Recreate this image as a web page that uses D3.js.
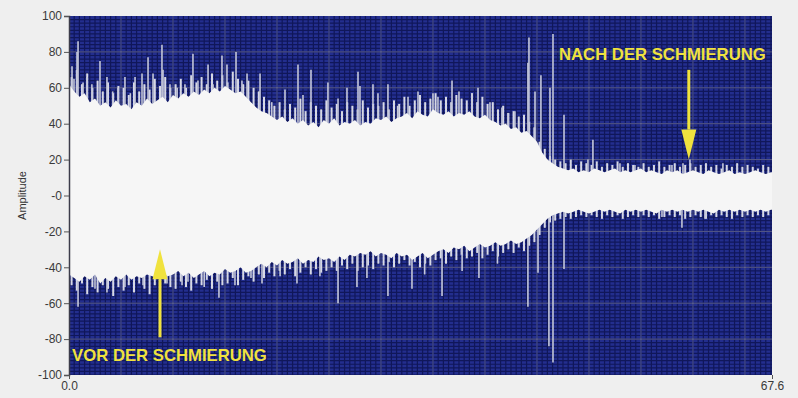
<!DOCTYPE html>
<html>
<head>
<meta charset="utf-8">
<script src="https://cdn.jsdelivr.net/npm/d3@7/dist/d3.min.js"></script>
<style>
  html, body { margin: 0; padding: 0; background: #efefef; }
  svg { display: block; }
  .tick text { font-family: "Liberation Sans", Arial, sans-serif; font-size: 12px; fill: #3a3a3a; }
</style>
</head>
<body>
<svg id="chart" width="798" height="398"></svg>
<script>
// Time axis (s) and amplitude range
const timeMax = 67.6;
const sampleStep = 0.5;
const yTicks = [100, 80, 60, 40, 20, 0, -20, -40, -60, -80, -100];
const xTicks = [0, 67.6];

// Dense core of the vibration signal, one value per 0.5 s (from t = 0)
const upperEnvelope = [
  62, 58, 55, 57, 52,
  54, 50, 52, 49, 53, 50,
  51, 48, 52, 50, 54, 51,
  53, 55, 52, 56, 54, 57,
  55, 58, 56, 59, 57, 60,
  58, 61, 59, 57, 58, 55,
  52, 49, 47,
  46, 44, 42, 44, 41,
  43, 40, 42, 39, 41, 38, 42, 40, 43, 39, 41, 40, 42, 39, 41, 40, 43, 42, 44, 41, 43,
  44, 46, 43, 47, 45, 44, 48, 46, 45, 47, 44, 46, 45, 47, 44, 43, 45,
  42, 41, 39, 40, 37, 38, 35, 36, 33, 30,
  24, 20, 18, 16, 15,
  14, 15, 13, 14, 13, 15, 14, 13, 14, 15, 13, 14, 13, 14, 15, 13, 14, 13, 12, 14,
  13, 14, 12, 13, 14, 13, 12, 14, 13, 12, 13, 14, 12, 13, 12, 13, 14, 13, 12, 13
];
const lowerEnvelope = [
  -44, -46, -48, -45, -47, -44, -49, -46, -48, -45, -47, -44, -47, -45, -46, -44, -45, -46, -43, -45,
  -44, -42, -45, -43, -46, -44, -42, -45, -43, -44, -41, -43, -42, -40, -43,
  -42, -40, -38, -40, -37, -39, -36, -38, -37, -35, -38, -36, -37, -34, -36, -35, -37, -34, -36, -33,
  -34, -32, -33, -31, -34, -32, -33, -35, -32, -34, -33, -36, -34, -32, -35, -33,
  -31, -30, -32, -29, -30, -28, -31, -29, -27, -29, -28, -26, -28, -27, -25, -27, -26, -24,
  -22, -19, -16, -13,
  -11, -10, -9, -10, -9, -8, -9, -10, -9, -8, -9, -8, -9, -10, -8, -9, -8, -9, -8, -9, -10,
  -8, -9, -8, -9, -8, -9, -8, -9, -8, -9, -10, -8, -9, -8, -9, -8, -9, -8, -9, -8, -9, -8
];

// Outer fringe of the signal, one value per 0.5 s (from t = 0.25)
const upperFringe = [
  66, 70, 62, 68, 60, 64, 58, 63, 57, 61,
  60, 56, 63, 58, 62, 59, 65, 61, 66, 60,
  62, 65, 60, 67, 63, 66, 62, 68, 64, 67,
  63, 69, 65, 62, 64, 60, 58, 55, 53, 50,
  52, 48, 51, 49, 54, 47, 52, 50, 48, 53,
  49, 51, 47, 52, 50, 48, 53, 49, 51, 50,
  52, 48, 53, 51, 55, 50, 53, 56, 52, 54,
  57, 53, 55, 52, 56, 54, 53, 57, 52, 55,
  51, 52, 48, 50, 46, 47, 44, 45, 41, 38,
  30, 26, 22, 20, 19, 18, 20, 17, 19, 18,
  17, 19, 16, 18, 17, 19, 16, 18, 17, 16,
  18, 16, 17, 19, 16, 17, 18, 16, 17, 18,
  16, 17, 18, 16, 17, 15, 17, 16, 18, 16,
  17, 16, 15, 17, 16
];
const lowerFringe = [
  -50, -53, -49, -55, -51, -54, -50, -52, -56, -51,
  -53, -50, -54, -49, -52, -55, -50, -53, -49, -51,
  -52, -48, -51, -53, -49, -50, -47, -52, -48, -50,
  -49, -46, -50, -47, -45, -48, -44, -46, -43, -45,
  -42, -44, -41, -45, -43, -40, -44, -41, -43, -42,
  -40, -42, -39, -41, -38, -42, -40, -39, -41, -38,
  -39, -37, -40, -38, -36, -39, -37, -40, -38, -39,
  -36, -35, -38, -34, -36, -33, -35, -34, -32, -35,
  -33, -31, -34, -32, -30, -32, -29, -31, -28, -26,
  -22, -18, -15, -14, -13, -12, -13, -12, -11, -12,
  -11, -12, -13, -11, -12, -11, -13, -12, -11, -12,
  -11, -12, -11, -13, -12, -11, -12, -11, -13, -12,
  -11, -12, -13, -11, -12, -11, -12, -13, -11, -12,
  -11, -12, -11, -12, -11
];

// Individual peaks above the signal: time (s) and amplitude
const upperPeakTime = [0.29, 0.48, 0.77, 0.87, 1.35, 1.73, 2.2, 2.98, 3.65, 4.2, 4.71, 5.38, 5.9, 6.35, 7.02, 7.6, 8.08,
  8.94, 9.04, 9.71, 10.4, 11.15, 11.92, 12.4, 13.37, 13.85, 14.71, 15.19, 16.06, 16.63, 17.12, 18.37, 19.5,
  20.77, 22.02, 22.5, 23.27, 24.9, 25.87, 26.73, 27.79, 27.98, 29.23, 29.71, 30.67, 31.6, 32.6, 33.56, 35.0,
  35.48, 36.83, 37.5, 38.75, 39.33, 40.48, 41.63, 42.21, 42.88, 44.13, 44.23, 44.81, 45.38, 46.25, 46.54,
  47.6, 49.9, 50.38, 52.98, 54.42, 57.98, 59.04, 59.71, 62.88, 64.23];
const upperPeakValue = [72, 65, 80, 86, 63, 66, 62, 75, 66, 58, 60, 66, 57, 66, 68, 77, 68,
  84, 70, 62, 60, 62, 79, 64, 73, 62, 78, 73, 80, 64, 68, 68, 52,
  59, 73, 56, 70, 63, 54, 60, 69, 61, 62, 57, 62, 50, 55, 58, 57,
  55, 64, 58, 57, 60, 52, 49, 46, 47, 74, 88, 58, 67, 60, 90,
  45, 20, 31, 18, 17, 17, 18, 20, 18, 17];

// Individual peaks below the signal
const lowerPeakTime = [0.87, 2.5, 3.65, 5.38, 7.12, 8.75, 9.42, 10.87, 11.44, 13.0, 14.42, 15.96, 17.5, 18.56,
  20.3, 21.92, 24.13, 25.87, 27.69, 28.65, 30.67, 32.98, 34.2, 35.87, 37.8, 39.42, 41.2, 44.13, 45.1,
  46.15, 46.54, 47.6, 57.02, 58.94, 61.15];
const lowerPeakValue = [-62, -52, -54, -51, -50, -55, -49, -50, -48, -51, -57, -50, -46, -49,
  -45, -49, -45, -60, -51, -46, -56, -52, -44, -56, -42, -46, -38, -62, -43,
  -84, -93, -41, -12, -18, -13];

// Annotation labels
const labelBefore = "VOR DER SCHMIERUNG";
const labelAfter = "NACH DER SCHMIERUNG";
const axisTitle = "Amplitude";

const svg = d3.select("#chart");
const W = 798, H = 398;
const margin = { top: 16, right: 26, bottom: 23, left: 69 };
const x0 = margin.left, x1 = W - margin.right;
const y0 = margin.top, y1 = H - margin.bottom;

const x = d3.scaleLinear().domain([0, timeMax]).range([x0, x1]);
const y = d3.scaleLinear().domain([-100, 100]).range([y1, y0]);

svg.append("rect").attr("width", W).attr("height", H).attr("fill", "#efefef");

// Plot background
svg.append("defs").append("clipPath").attr("id", "plotClip")
  .append("rect").attr("x", x0).attr("y", y0).attr("width", x1 - x0).attr("height", y1 - y0);

const plot = svg.append("g").attr("clip-path", "url(#plotClip)");
plot.append("rect").attr("x", x0).attr("y", y0).attr("width", x1 - x0).attr("height", y1 - y0)
  .attr("fill", "#232e8e");

// Fine grid
const minorX = d3.range(0, timeMax, 0.5);
const minorY = d3.range(-100, 100, 2);
plot.selectAll("line.minx").data(minorX).join("line")
  .attr("x1", d => x(d)).attr("x2", d => x(d)).attr("y1", y0).attr("y2", y1)
  .attr("stroke", "#10175a").attr("stroke-width", 1.2);
plot.selectAll("line.miny").data(minorY).join("line")
  .attr("y1", d => y(d)).attr("y2", d => y(d)).attr("x1", x0).attr("x2", x1)
  .attr("stroke", "#10175a").attr("stroke-width", 1.2);

// Major grid
const majorX = d3.range(5, timeMax, 5);
const majorY = d3.range(-80, 100, 20);
plot.selectAll("line.majx").data(majorX).join("line")
  .attr("x1", d => x(d)).attr("x2", d => x(d)).attr("y1", y0).attr("y2", y1)
  .attr("stroke", "#7d82b4").attr("stroke-width", 1).attr("opacity", 0.6);
plot.selectAll("line.majy").data(majorY).join("line")
  .attr("y1", d => y(d)).attr("y2", d => y(d)).attr("x1", x0).attr("x2", x1)
  .attr("stroke", "#8a8aa8").attr("stroke-width", 1).attr("opacity", 0.6);

// Fringe strokes
const fringe = upperFringe.map((u, i) => ({ t: i * sampleStep + sampleStep / 2, hi: u, lo: lowerFringe[i] }));
plot.selectAll("line.fr").data(fringe).join("line")
  .attr("x1", d => x(d.t)).attr("x2", d => x(d.t))
  .attr("y1", d => y(d.lo)).attr("y2", d => y(d.hi))
  .attr("stroke", "#d6d8e4").attr("stroke-width", 2);

// Peaks
const upperPeaks = upperPeakTime.map((t, i) => ({ t, v: upperPeakValue[i] }));
const lowerPeaks = lowerPeakTime.map((t, i) => ({ t, v: lowerPeakValue[i] }));
plot.selectAll("line.up").data(upperPeaks).join("line")
  .attr("x1", d => x(d.t)).attr("x2", d => x(d.t))
  .attr("y1", y(0)).attr("y2", d => y(d.v))
  .attr("stroke", "#c4c7da").attr("stroke-width", 1.6);
plot.selectAll("line.lo").data(lowerPeaks).join("line")
  .attr("x1", d => x(d.t)).attr("x2", d => x(d.t))
  .attr("y1", y(0)).attr("y2", d => y(d.v))
  .attr("stroke", "#c4c7da").attr("stroke-width", 1.6);

// Signal core
const samples = upperEnvelope.map((u, i) => ({ t: Math.min(i * sampleStep, timeMax), hi: u, lo: lowerEnvelope[i] }));
samples.push({ t: timeMax, hi: upperEnvelope[upperEnvelope.length - 1], lo: lowerEnvelope[lowerEnvelope.length - 1] });
const area = d3.area().x(d => x(d.t)).y0(d => y(d.lo)).y1(d => y(d.hi)).curve(d3.curveLinear);
plot.append("path").datum(samples).attr("d", area).attr("fill", "#f6f6f6");

// Axes
const yAxis = d3.axisLeft(y).tickValues(yTicks).tickSize(5).tickPadding(2)
  .tickFormat(d => d === 0 ? "-0" : String(d));
const gy = svg.append("g").attr("transform", `translate(${x0},0)`).call(yAxis);
gy.select(".domain").attr("stroke", "#3c3c4a").attr("stroke-width", 1.5);
gy.selectAll(".tick line").attr("stroke", "#555");

const xAxis = d3.axisBottom(x).tickValues(xTicks).tickSize(4).tickPadding(2).tickFormat(d3.format(".1f"));
const gx = svg.append("g").attr("transform", `translate(0,${y1})`).call(xAxis);
gx.select(".domain").remove();
gx.selectAll(".tick line").attr("stroke", "#555");

svg.append("text")
  .attr("transform", `translate(26,${(y0 + y1) / 2}) rotate(-90)`)
  .attr("text-anchor", "middle")
  .attr("font-family", "Liberation Sans, Arial, sans-serif")
  .attr("font-size", 11).attr("fill", "#333")
  .text(axisTitle);

// Annotations
const yellow = "#f0e23e";
const ann = svg.append("g");
function arrow(t, from, to) {
  const dir = Math.sign(y(to) - y(from));
  const headLen = 30, headHalf = 7.5;
  const xp = x(t);
  ann.append("line").attr("x1", xp).attr("x2", xp)
    .attr("y1", y(from)).attr("y2", y(to) - dir * headLen)
    .attr("stroke", yellow).attr("stroke-width", 3);
  ann.append("path")
    .attr("d", `M${xp},${y(to)} L${xp - headHalf},${y(to) - dir * headLen} L${xp + headHalf},${y(to) - dir * headLen} Z`)
    .attr("fill", yellow);
}
arrow(8.75, -79, -30);
arrow(59.6, 70, 20);

ann.append("text").attr("x", x(0.3)).attr("y", y(-92))
  .attr("font-family", "Liberation Sans, Arial, sans-serif").attr("font-weight", "bold")
  .attr("font-size", 16.7).attr("fill", yellow).text(labelBefore);
ann.append("text").attr("x", x(67.0)).attr("y", y(75.6)).attr("text-anchor", "end")
  .attr("font-family", "Liberation Sans, Arial, sans-serif").attr("font-weight", "bold")
  .attr("font-size", 16.7).attr("fill", yellow).text(labelAfter);
</script>
</body>
</html>
